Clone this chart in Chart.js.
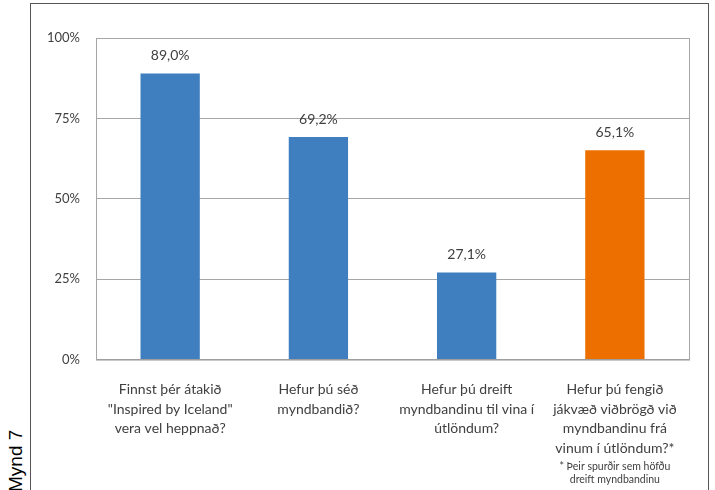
<!DOCTYPE html>
<html>
<head>
<meta charset="utf-8">
<script src="https://cdn.jsdelivr.net/npm/chart.js@4.4.0/dist/chart.umd.min.js"></script>
<style>
  body { margin: 0; background: #fff; }
  #frame { position: absolute; left: 30px; top: 3px; width: 677px; height: 600px; border: 1.5px solid #555; }
  #mynd { position: absolute; left: 6px; top: 492px; transform-origin: 0 0; transform: rotate(-90deg);
          font: 19px "Liberation Sans", Arial, sans-serif; line-height: 19px; white-space: nowrap; color: #000; }
  canvas { position: absolute; left: 0; top: 0; }
</style>
</head>
<body>
<div id="frame"></div>
<div id="mynd">Mynd 7</div>
<canvas id="chart" width="715" height="490"></canvas>
<script>
var questions = [
  ['Finnst þér átakið', '"Inspired by Iceland"', 'vera vel heppnað?'],
  ['Hefur þú séð', 'myndbandið?'],
  ['Hefur þú dreift', 'myndbandinu til vina í', 'útlöndum?'],
  ['Hefur þú fengið', 'jákvæð viðbrögð við', 'myndbandinu frá', 'vinum í útlöndum?*']
];
var answers = [89.0, 69.2, 27.1, 65.1];
var barColors = ['#3f7fbf', '#3f7fbf', '#3f7fbf', '#ec6f00'];
var footnote = ['* Þeir spurðir sem höfðu', 'dreift myndbandinu'];

var textColor = '#404040';
var fontName = 'Lato, "Open Sans", sans-serif';

// border round the plot area
var plotBorder = {
  id: 'plotBorder',
  afterDraw: function (chart) {
    var a = chart.chartArea, ctx = chart.ctx;
    ctx.save();
    ctx.strokeStyle = '#a6a6a6';
    ctx.lineWidth = 1;
    ctx.strokeRect(a.left + 0.5, a.top + 0.5, a.right - a.left, a.bottom - a.top);
    ctx.restore();
  }
};

// value labels over the bars
var valueLabels = {
  id: 'valueLabels',
  afterDatasetsDraw: function (chart) {
    var ctx = chart.ctx;
    var meta = chart.getDatasetMeta(0);
    ctx.save();
    ctx.font = '14px ' + fontName;
    ctx.fillStyle = textColor;
    ctx.textAlign = 'center';
    ctx.textBaseline = 'middle';
    meta.data.forEach(function (bar, i) {
      var txt = answers[i].toFixed(1).replace('.', ',') + '%';
      ctx.fillText(txt, bar.x, bar.y - 18);
    });
    ctx.restore();
  }
};

// small note under the last category
var footNote = {
  id: 'footNote',
  afterDraw: function (chart) {
    var ctx = chart.ctx, x = chart.scales.x;
    var cx = x.getPixelForValue(questions.length - 1);
    var y0 = x.top + 107;
    ctx.save();
    ctx.font = '10.5px ' + fontName;
    ctx.fillStyle = textColor;
    ctx.textAlign = 'center';
    ctx.textBaseline = 'middle';
    footnote.forEach(function (line, i) {
      ctx.fillText(line, cx, y0 + i * 13);
    });
    ctx.restore();
  }
};

new Chart(document.getElementById('chart'), {
  type: 'bar',
  data: {
    labels: questions,
    datasets: [{
      data: answers,
      backgroundColor: barColors,
      categoryPercentage: 1.0,
      barPercentage: 0.4
    }]
  },
  options: {
    responsive: false,
    animation: false,
    devicePixelRatio: 1,
    layout: { padding: { left: 31, right: 26, top: 38, bottom: 20 } },
    plugins: { legend: { display: false }, tooltip: { enabled: false } },
    scales: {
      x: {
        grid: { display: false },
        border: { color: '#999', width: 1 },
        ticks: {
          color: textColor, padding: 12, maxRotation: 0, autoSkip: false,
          font: { family: fontName, size: 14, lineHeight: 1.4 }
        }
      },
      y: {
        min: 0, max: 100,
        grid: { color: '#a6a6a6', drawTicks: false },
        border: { color: '#a6a6a6' },
        ticks: {
          stepSize: 25, padding: 16, color: textColor,
          font: { family: fontName, size: 13 },
          callback: function (v) { return v + '%'; }
        }
      }
    }
  },
  plugins: [plotBorder, valueLabels, footNote]
});
</script>
</body>
</html>
